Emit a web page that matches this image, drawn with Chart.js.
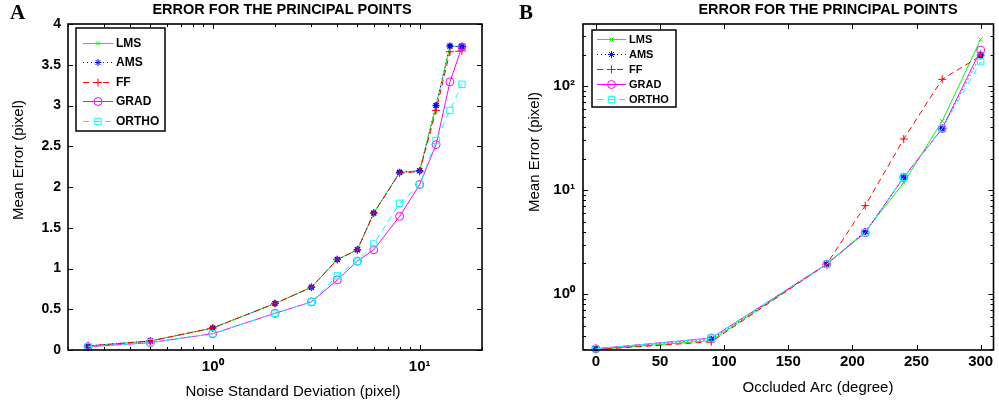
<!DOCTYPE html>
<html><head><meta charset="utf-8">
<script src="https://cdn.jsdelivr.net/npm/chart.js@4.4.1/dist/chart.umd.min.js"></script>
<style>
html,body{margin:0;padding:0;background:#fff;width:999px;height:406px;overflow:hidden}
canvas{position:absolute;top:0}
#cA{left:0}
#cB{left:500px}
</style></head><body>
<canvas id="cA" width="500" height="406"></canvas>
<canvas id="cB" width="499" height="406"></canvas>
<script>
// ---------- DATA ----------
const seriesNames = ['LMS','AMS','FF','GRAD','ORTHO'];
const chartTitle = 'ERROR FOR THE PRINCIPAL POINTS';
const yTitle = 'Mean Error (pixel)';
const xTitleA = 'Noise Standard Deviation (pixel)';
const xTitleB = 'Occluded Arc (degree)';

// Panel A: noise level (log x)
const noiseSigma = [0.25,0.5,1,2,3,4,5,6,8,10,12,14,16];
const noiseLMS   = [0.05,0.11,0.27,0.57,0.77,1.11,1.23,1.68,2.18,2.20,3.00,3.73,3.72];
const noiseAMS   = [0.05,0.11,0.27,0.57,0.77,1.11,1.23,1.68,2.18,2.20,3.00,3.73,3.72];
const noiseFF    = [0.05,0.11,0.27,0.57,0.77,1.11,1.23,1.68,2.17,2.19,2.94,3.66,3.67];
const noiseGRAD  = [0.04,0.09,0.20,0.45,0.59,0.86,1.09,1.23,1.64,2.03,2.52,3.29,3.72];
const noiseORTHO = [0.04,0.09,0.20,0.45,0.59,0.91,1.09,1.30,1.80,2.03,2.57,2.94,3.26];
const noiseXTicks = [0.2,0.3,0.4,0.5,0.6,0.7,0.8,0.9,1,2,3,4,5,6,7,8,9,10,20];
const noiseXLabels = {1:'10\u2070', 10:'10\u00B9'};
const noiseYTicks = [0,0.5,1,1.5,2,2.5,3,3.5,4];

// Panel B: occluded arc (log y)
const arcDeg   = [0,90,180,210,240,270,300];
const arcLMS   = [0.295,0.36,1.95,4.0,11.8,46,280];
const arcAMS   = [0.30,0.37,1.95,4.0,13.2,39,198];
const arcFF    = [0.295,0.35,1.95,7.1,31,116,195];
const arcGRAD  = [0.30,0.38,1.95,3.9,13.3,39,221];
const arcORTHO = [0.30,0.38,1.95,3.9,13.3,39,171];
const arcXTicks = [0,50,100,150,200,250,300];
const arcYTicks = [0.3,0.4,0.5,0.6,0.7,0.8,0.9,1,2,3,4,5,6,7,8,9,10,20,30,40,50,60,70,80,90,100,200,300];
const arcYLabels = {1:'10\u2070', 10:'10\u00B9', 100:'10\u00B2'};

// ---------- STYLES ----------
const styles = {
  LMS:   {color:'#00ff00', dash:[],    point:'crossRot', r:3,   pw:1},
  AMS:   {color:'#0000ff', dash:[1,3], point:'star',     r:3.5, pw:1.5},
  FF:    {color:'#ff0000', dash:[6,4], point:'cross',    r:4,   pw:1},
  GRAD:  {color:'#ff00ff', dash:[],    point:'circle',   r:4,   pw:1},
  ORTHO: {color:'#00ffff', dash:[6,5], point:'rect',     r:4.5, pw:1}
};
const FONT = "'Liberation Sans', Arial, Helvetica, sans-serif";
Chart.defaults.font.family = FONT;
Chart.defaults.color = '#000';

function makeDatasets(xs, ys){
  return seriesNames.map((n,i)=>{
    const s = styles[n];
    return {
      label:n,
      data: xs.map((x,j)=>({x:x, y:ys[i][j]})),
      borderColor:s.color, backgroundColor:'rgba(0,0,0,0)',
      borderWidth:1, borderDash:s.dash,
      pointStyle:s.point, pointRadius:s.r, pointBorderWidth:s.pw,
      pointBorderColor:s.color, pointBackgroundColor:'rgba(0,0,0,0)',
      tension:0, clip:false, order:5-i
    };
  });
}

const isDecade = v => Math.abs(Math.log10(v) - Math.round(Math.log10(v))) < 1e-9;

const deco = {
  cA: {
    letter:'A', letterX:10, letterY:19, titleX:282,
    xTitleX:293, xTitleY:396, yTitleX:19, yTitleY:160,
    xTicks:noiseXTicks, xMajor:isDecade, yTicks:noiseYTicks, yMajor:()=>true,
    leg:{x0:76,x1:165,y0:28,y1:131,rows:[43,62,82,101,121],l0:83,l1:113,m:98,tx:116,fs:12}
  },
  cB: {
    letter:'B', letterX:19, letterY:19, titleX:328,
    xTitleX:318, xTitleY:392, yTitleX:35, yTitleY:152,
    xTicks:arcXTicks, xMajor:()=>true, yTicks:arcYTicks, yMajor:isDecade,
    leg:{x0:92,x1:176,y0:30,y1:107,rows:[39,54,69,84,99],l0:97,l1:126,m:111.5,tx:129,fs:11}
  }
};

function seg(ctx,x1,y1,x2,y2){ctx.beginPath();ctx.moveTo(x1,y1);ctx.lineTo(x2,y2);ctx.stroke();}

const decoPlugin = {
  id:'deco',
  beforeDatasetsDraw(chart){
    const d = deco[chart.canvas.id]; const ctx = chart.ctx; const a = chart.chartArea;
    const xs = chart.scales.x, ys = chart.scales.y;
    ctx.save(); ctx.strokeStyle='#000'; ctx.lineWidth=1;
    d.xTicks.forEach(v=>{
      const p = Math.round(xs.getPixelForValue(v))+0.5; const L = d.xMajor(v)?5:3;
      seg(ctx,p,a.bottom,p,a.bottom-L); seg(ctx,p,a.top,p,a.top+L);
    });
    d.yTicks.forEach(v=>{
      const p = Math.round(ys.getPixelForValue(v))+0.5; const L = d.yMajor(v)?5:3;
      seg(ctx,a.left,p,a.left+L,p); seg(ctx,a.right,p,a.right-L,p);
    });
    ctx.restore();
  },
  afterDraw(chart){
    const d = deco[chart.canvas.id]; const ctx = chart.ctx; const a = chart.chartArea;
    ctx.save();
    // frame
    ctx.strokeStyle='#000'; ctx.lineWidth=1.6;
    ctx.strokeRect(a.left, a.top, a.right-a.left, a.bottom-a.top);
    // title + letter
    ctx.fillStyle='#000'; ctx.textBaseline='alphabetic';
    ctx.font = "bold 14.5px "+FONT; ctx.textAlign='center';
    ctx.fillText(chartTitle, d.titleX, 14);
    ctx.font = "bold 21px 'Liberation Serif', 'Times New Roman', serif"; ctx.textAlign='left';
    ctx.fillText(d.letter, d.letterX, d.letterY);
    // axis titles
    ctx.font = "15px "+FONT; ctx.textAlign='center';
    ctx.fillText(chart.canvas.id==='cA'?xTitleA:xTitleB, d.xTitleX, d.xTitleY);
    ctx.save(); ctx.translate(d.yTitleX, d.yTitleY); ctx.rotate(-Math.PI/2);
    ctx.textBaseline='middle'; ctx.fillText(yTitle,0,0); ctx.restore();
    // legend
    const L = d.leg;
    ctx.fillStyle='#fff'; ctx.fillRect(L.x0,L.y0,L.x1-L.x0,L.y1-L.y0);
    ctx.strokeStyle='#000'; ctx.lineWidth=1.5; ctx.strokeRect(L.x0,L.y0,L.x1-L.x0,L.y1-L.y0);
    chart.data.datasets.forEach((ds,i)=>{
      const y = L.rows[i]+0.5;
      ctx.strokeStyle = ds.borderColor; ctx.lineWidth=1; ctx.setLineDash(ds.borderDash);
      seg(ctx,L.l0,y,L.l1,y); ctx.setLineDash([]);
      ctx.strokeStyle = ds.pointBorderColor; ctx.fillStyle='rgba(0,0,0,0)';
      Chart.helpers.drawPoint(ctx,{pointStyle:ds.pointStyle,radius:ds.pointRadius,borderWidth:ds.pointBorderWidth,rotation:0},L.m,y);
      ctx.fillStyle='#000'; ctx.font="bold "+L.fs+"px "+FONT; ctx.textAlign='left'; ctx.textBaseline='middle';
      ctx.fillText(ds.label, L.tx, y);
    });
    ctx.restore();
  }
};

const tickFont = {size:15, weight:'bold'};

new Chart(document.getElementById('cA'), {
  type:'line',
  data:{datasets: makeDatasets(noiseSigma,[noiseLMS,noiseAMS,noiseFF,noiseGRAD,noiseORTHO])},
  options:{
    responsive:false, animation:false, devicePixelRatio:1,
    layout:{padding:{left:0,right:18,top:24,bottom:0}},
    plugins:{legend:{display:false}, tooltip:{enabled:false}},
    scales:{
      x:{type:'logarithmic', min:0.2, max:20,
        grid:{display:false, drawTicks:false}, border:{display:false},
        afterBuildTicks:s=>{s.ticks = noiseXTicks.map(v=>({value:v}));},
        afterFit:s=>{s.height=56;},
        ticks:{autoSkip:false, maxRotation:0, padding:8, font:tickFont,
          callback:v=>noiseXLabels[v]||''}},
      y:{type:'linear', min:0, max:4,
        grid:{display:false, drawTicks:false}, border:{display:false},
        afterBuildTicks:s=>{s.ticks = noiseYTicks.map(v=>({value:v}));},
        afterFit:s=>{s.width=68;},
        ticks:{padding:7, font:{size:14, weight:'bold'}, callback:v=>String(v)}}
    }
  },
  plugins:[decoPlugin]
});

new Chart(document.getElementById('cB'), {
  type:'line',
  data:{datasets: makeDatasets(arcDeg,[arcLMS,arcAMS,arcFF,arcGRAD,arcORTHO])},
  options:{
    responsive:false, animation:false, devicePixelRatio:1,
    layout:{padding:{left:0,right:3,top:24,bottom:0}},
    plugins:{legend:{display:false}, tooltip:{enabled:false}},
    scales:{
      x:{type:'linear', min:-10, max:310,
        grid:{display:false, drawTicks:false}, border:{display:false},
        afterBuildTicks:s=>{s.ticks = arcXTicks.map(v=>({value:v}));},
        afterFit:s=>{s.height=56;},
        ticks:{autoSkip:false, maxRotation:0, padding:3, font:tickFont, callback:v=>String(v)}},
      y:{type:'logarithmic', min:0.292, max:394,
        grid:{display:false, drawTicks:false}, border:{display:false},
        afterBuildTicks:s=>{s.ticks = arcYTicks.map(v=>({value:v}));},
        afterFit:s=>{s.width=83;},
        ticks:{autoSkip:false, padding:8, font:tickFont, callback:v=>arcYLabels[v]||''}}
    }
  },
  plugins:[decoPlugin]
});
</script>
</body></html>
